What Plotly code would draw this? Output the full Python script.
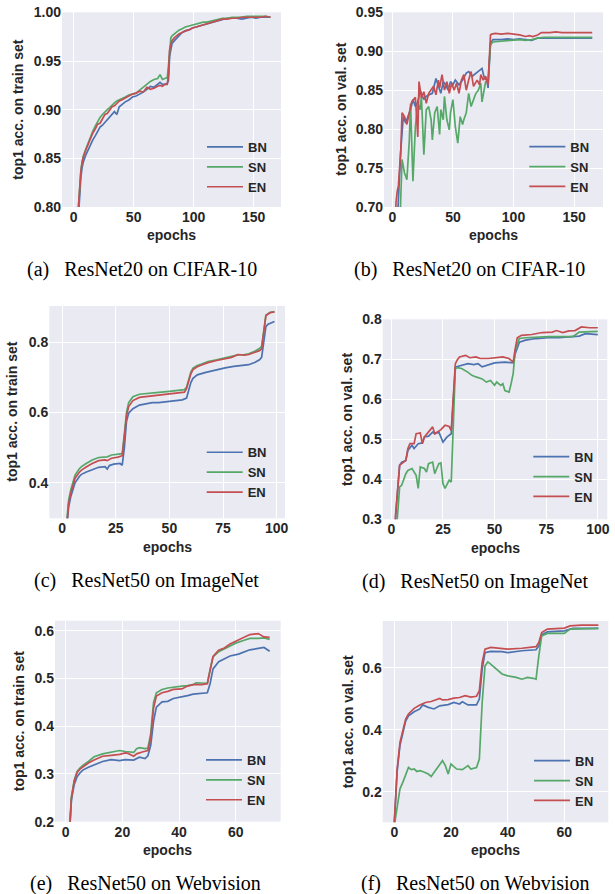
import plotly.graph_objects as go

# ---------------- data ----------------
# (a) ResNet20 CIFAR-10, train
A_X = [1,2,3,4,5,6,7,8,10,12,14,16,18,20,22,24,26,28,30,32,34,36,38,40,43,46,49,52,55,58,61,64,67,70,72,74,76,78,79,80,81,82,84,86,88,90,93,96,99,102,105,108,111,114,117,120,124,128,132,136,140,144,148,152,156,160,164]
A_BN = [0.58,0.69,0.75,0.79,0.815,0.830,0.840,0.846,
        0.853,0.859,0.864,0.869,0.873,0.877,0.882,0.884,0.887,0.890,0.893,0.895,0.898,0.895,0.903,0.905,
        0.908,0.910,0.913,0.914,0.916,0.918,0.921,0.924,0.923,0.926,
        0.928,0.926,0.926,0.927,
        0.930,0.955,0.964,0.968,
        0.971,0.974,0.977,0.979,
        0.981,0.982,0.984,0.985,0.986,0.987,0.988,0.989,0.990,0.991,
        0.993,0.994,0.994,0.994,0.993,0.994,0.995,0.994,0.995,0.995,0.995]
A_SN = [0.59,0.70,0.76,0.80,0.823,0.837,0.846,0.852,
        0.859,0.866,0.873,0.878,0.883,0.888,0.892,0.895,0.898,0.900,0.902,0.905,0.907,0.909,0.910,0.911,
        0.913,0.915,0.916,0.917,0.920,0.923,0.926,0.929,0.931,0.932,
        0.936,0.931,0.932,0.933,
        0.945,0.966,0.974,0.976,
        0.978,0.980,0.982,0.983,
        0.985,0.986,0.987,0.988,0.989,0.990,0.990,0.991,0.992,0.993,
        0.994,0.994,0.995,0.995,0.995,0.996,0.996,0.996,0.996,0.996,0.995]
A_EN = [0.60,0.70,0.76,0.80,0.822,0.836,0.845,0.851,
        0.858,0.864,0.871,0.876,0.880,0.885,0.886,0.891,0.895,0.896,0.900,0.903,0.904,0.907,0.909,0.910,
        0.912,0.914,0.916,0.917,0.919,0.918,0.923,0.921,0.922,0.924,
        0.925,0.924,0.926,0.926,
        0.935,0.962,0.968,0.971,
        0.974,0.976,0.978,0.979,
        0.981,0.982,0.984,0.985,0.986,0.987,0.988,0.989,0.990,0.991,
        0.993,0.993,0.994,0.994,0.995,0.995,0.995,0.995,0.995,0.996,0.995]

# (b) ResNet20 CIFAR-10, val
B_BN_X = [3,4,5,7,9,11,13,15,17,19,21,23,26,28,30,33,36,38,40,42,44,46,48,50,52,55,58,61,63,66,69,72,74,76,78,79,81,83,90,95,100,105,110,115,120,125,130,140,150,160,165]
B_BN = [0.64,0.68,0.71,0.774,0.816,0.808,0.816,0.825,0.838,0.829,0.835,0.850,0.838,0.842,0.844,0.846,0.865,0.855,0.846,0.861,0.857,0.850,0.861,0.857,0.863,0.857,0.863,0.872,0.874,0.868,0.872,0.876,0.878,0.865,0.863,0.853,0.910,0.915,0.915,0.916,0.915,0.916,0.915,0.914,0.917,0.917,0.917,0.917,0.917,0.917,0.917]
B_SN_X = [5,7,8,10,12,14,15,17,19,21,23,24,26,28,30,32,33,35,37,39,40,42,43,45,47,48,50,52,54,56,58,59,61,63,65,68,69,71,73,74,76,77,79,81,83,90,95,100,105,110,115,120,125,130,140,150,160,165]
B_SN = [0.62,0.70,0.761,0.744,0.735,0.786,0.833,0.733,0.803,0.833,0.825,0.842,0.767,0.825,0.829,0.812,0.786,0.821,0.829,0.793,0.825,0.812,0.842,0.812,0.799,0.821,0.838,0.803,0.782,0.816,0.806,0.812,0.821,0.846,0.829,0.842,0.846,0.850,0.859,0.835,0.855,0.861,0.863,0.908,0.912,0.913,0.914,0.914,0.915,0.914,0.915,0.917,0.918,0.918,0.918,0.918,0.918,0.918]
B_EN_X = [2,3,4,5,7,8,10,12,14,16,19,21,22,24,26,28,30,32,34,36,38,39,41,43,45,47,49,51,53,55,57,59,61,63,65,67,70,72,73,75,77,79,81,82,85,90,95,100,105,110,113,116,120,123,130,135,140,145,150,155,160,165]
B_EN = [0.66,0.705,0.72,0.727,0.774,0.821,0.816,0.806,0.821,0.835,0.841,0.790,0.861,0.840,0.848,0.833,0.846,0.850,0.855,0.844,0.863,0.853,0.870,0.850,0.861,0.846,0.859,0.850,0.859,0.846,0.863,0.870,0.850,0.863,0.874,0.855,0.863,0.857,0.870,0.863,0.868,0.857,0.921,0.922,0.923,0.922,0.923,0.922,0.921,0.919,0.920,0.919,0.921,0.924,0.924,0.925,0.924,0.924,0.924,0.924,0.924,0.924]

# (c) ResNet50 ImageNet, train
C_BN_X = [1,2,3,4,5,6,8,9,11,14,17,20,21,22,24,27,28,29,30,31,33,36,40,42,45,50,53,56,58,59,60,61,63,67,72,76,80,84,87,90,92,93,94,95,96,99]
C_BN = [0.19,0.26,0.33,0.36,0.38,0.40,0.418,0.424,0.430,0.437,0.444,0.446,0.439,0.449,0.453,0.455,0.450,0.50,0.575,0.598,0.611,0.621,0.625,0.628,0.628,0.632,0.633,0.636,0.641,0.665,0.685,0.697,0.707,0.714,0.722,0.727,0.731,0.733,0.736,0.743,0.750,0.757,0.800,0.845,0.851,0.859]
C_SN_X = [1,2,3,4,5,6,8,9,11,14,17,20,21,23,26,28,29,30,31,33,36,40,45,50,53,57,58,59,60,61,63,65,68,72,76,79,82,85,87,90,92,93,94,95,97,99]
C_SN = [0.21,0.28,0.35,0.38,0.40,0.422,0.440,0.446,0.454,0.465,0.472,0.475,0.474,0.479,0.482,0.483,0.54,0.60,0.628,0.645,0.652,0.655,0.657,0.660,0.662,0.665,0.672,0.695,0.715,0.726,0.734,0.738,0.745,0.750,0.755,0.759,0.764,0.765,0.767,0.775,0.782,0.788,0.835,0.877,0.885,0.887]
C_EN_X = [1,2,3,4,5,6,8,9,11,14,17,20,21,23,26,28,29,30,31,33,36,40,45,50,53,57,58,59,60,61,63,65,68,72,76,79,82,85,87,90,92,93,94,95,97,99]
C_EN = [0.20,0.27,0.34,0.37,0.39,0.413,0.430,0.436,0.444,0.455,0.463,0.465,0.463,0.470,0.473,0.477,0.53,0.59,0.617,0.634,0.643,0.646,0.650,0.652,0.655,0.658,0.668,0.690,0.710,0.722,0.730,0.735,0.742,0.748,0.752,0.757,0.765,0.763,0.765,0.772,0.776,0.781,0.830,0.876,0.884,0.886]

# (d) ResNet50 ImageNet, val
D_BN_X = [1,2,3,4,5,7,8,10,11,13,15,16,18,20,21,23,25,27,29,30,31,32,34,37,40,42,44,47,50,55,59,60,62,65,70,76,81,86,91,94,100]
D_BN = [0.15,0.30,0.37,0.435,0.443,0.447,0.472,0.485,0.477,0.489,0.491,0.506,0.508,0.518,0.514,0.518,0.493,0.506,0.514,0.589,0.681,0.682,0.685,0.689,0.687,0.689,0.681,0.687,0.691,0.693,0.691,0.714,0.743,0.748,0.752,0.754,0.754,0.756,0.758,0.764,0.762]
D_SN_X = [1,2,3,4,5,7,8,10,12,13,14,16,17,18,20,21,22,23,24,25,26,28,29,30,31,32,34,37,39,41,44,46,48,50,51,53,54,55,57,58,59,60,62,65,70,76,83,88,91,100]
D_SN = [0.12,0.25,0.31,0.381,0.385,0.414,0.422,0.427,0.410,0.377,0.431,0.427,0.418,0.439,0.443,0.414,0.427,0.439,0.441,0.389,0.377,0.398,0.393,0.556,0.677,0.679,0.677,0.668,0.660,0.656,0.651,0.643,0.647,0.635,0.643,0.635,0.639,0.622,0.618,0.639,0.664,0.722,0.752,0.754,0.756,0.757,0.757,0.757,0.768,0.770]
D_EN_X = [1,2,3,4,5,7,8,9,11,12,14,15,16,18,20,21,24,26,28,29,30,31,32,33,36,38,41,43,47,50,54,57,59,60,61,63,68,73,78,80,83,86,89,92,96,100]
D_EN = [0.15,0.31,0.372,0.435,0.439,0.447,0.477,0.489,0.489,0.514,0.516,0.489,0.506,0.518,0.531,0.514,0.524,0.535,0.532,0.522,0.598,0.689,0.699,0.706,0.710,0.704,0.706,0.702,0.702,0.704,0.706,0.702,0.693,0.727,0.754,0.760,0.762,0.767,0.768,0.772,0.767,0.771,0.772,0.781,0.779,0.779]

# (e) ResNet50 Webvision, train
E_BN_X = [1,2,3,4,5,6,8,10,13,16,19,21,24,26,28,29,30,31,32,34,36,38,41,43,45,48,50,51,52,54,56,58,61,63,65,68,70,72]
E_BN = [0.14,0.245,0.278,0.294,0.302,0.308,0.314,0.319,0.326,0.330,0.328,0.330,0.329,0.335,0.332,0.338,0.360,0.410,0.440,0.451,0.452,0.458,0.461,0.464,0.467,0.468,0.470,0.490,0.520,0.535,0.541,0.547,0.551,0.556,0.560,0.563,0.565,0.557]
E_SN_X = [1,2,3,4,5,6,8,10,13,16,19,21,24,25,26,28,29,30,31,32,34,36,38,41,43,45,46,48,50,51,52,54,56,58,60,63,65,68,70,72]
E_SN = [0.15,0.252,0.287,0.305,0.312,0.318,0.326,0.336,0.342,0.345,0.349,0.347,0.345,0.353,0.355,0.353,0.354,0.385,0.450,0.470,0.477,0.480,0.482,0.484,0.485,0.487,0.491,0.490,0.490,0.520,0.545,0.556,0.562,0.568,0.574,0.580,0.584,0.584,0.585,0.582]
E_EN_X = [1,2,3,4,5,6,8,10,13,16,19,21,22,24,25,27,29,30,31,32,34,36,38,41,43,45,48,50,51,52,54,56,58,60,63,65,68,70,72]
E_EN = [0.15,0.25,0.285,0.303,0.310,0.315,0.323,0.329,0.337,0.339,0.341,0.344,0.343,0.337,0.342,0.346,0.349,0.376,0.438,0.463,0.470,0.473,0.477,0.478,0.484,0.487,0.487,0.489,0.515,0.546,0.559,0.564,0.572,0.578,0.587,0.592,0.594,0.587,0.586]

# (f) ResNet50 Webvision, val
F_BN_X = [0,1,2,3,4,5,7,9,10,12,14,16,19,21,23,24,26,29,30,31,32,34,38,40,45,50,51,52,54,60,63,72]
F_BN = [0.10,0.265,0.350,0.395,0.428,0.445,0.458,0.467,0.480,0.472,0.467,0.477,0.481,0.488,0.483,0.490,0.480,0.480,0.499,0.596,0.649,0.653,0.652,0.649,0.655,0.658,0.671,0.706,0.716,0.719,0.727,0.727]
F_SN_X = [0,1,2,3,4,5,6,7,8,9,10,12,13,15,17,18,19,20,22,24,26,27,29,30,31,32,33,34,36,38,40,43,45,47,49,50,51,52,54,60,62,72]
F_SN = [0.09,0.155,0.209,0.230,0.252,0.278,0.271,0.273,0.265,0.268,0.265,0.257,0.249,0.273,0.300,0.284,0.257,0.289,0.273,0.271,0.284,0.273,0.278,0.305,0.488,0.606,0.619,0.612,0.596,0.580,0.574,0.569,0.563,0.569,0.566,0.563,0.639,0.703,0.711,0.711,0.725,0.727]
F_EN_X = [0,1,2,3,4,5,7,9,11,13,16,17,19,21,23,25,27,29,30,31,32,34,37,40,45,50,51,52,54,57,60,62,66,72]
F_EN = [0.10,0.273,0.359,0.402,0.434,0.451,0.469,0.480,0.488,0.491,0.501,0.496,0.497,0.502,0.504,0.510,0.505,0.508,0.526,0.617,0.660,0.666,0.663,0.660,0.663,0.668,0.682,0.714,0.725,0.727,0.728,0.735,0.738,0.738]

SERIES_NAMES = ["BN", "SN", "EN"]
COLORS = {"BN": "#4C72B0", "SN": "#55A868", "EN": "#C44E52"}

CAPTIONS = ["(a)\u00a0\u00a0\u00a0ResNet20 on CIFAR-10", "(b)\u00a0\u00a0\u00a0ResNet20 on CIFAR-10",
            "(c)\u00a0\u00a0\u00a0ResNet50 on ImageNet", "(d)\u00a0\u00a0\u00a0ResNet50 on ImageNet",
            "(e)\u00a0\u00a0\u00a0ResNet50 on Webvision", "(f)\u00a0\u00a0\u00a0ResNet50 on Webvision"]
YTITLES = ["top1 acc. on train set", "top1 acc. on val. set"] * 3
XTITLE = "epochs"

XTICKS = [[0, 50, 100, 150], [0, 50, 100, 150], [0, 25, 50, 75, 100], [0, 25, 50, 75, 100],
          [0, 20, 40, 60], [0, 20, 40, 60]]
YTICKS = [[0.80, 0.85, 0.90, 0.95, 1.00], [0.70, 0.75, 0.80, 0.85, 0.90, 0.95],
          [0.4, 0.6, 0.8], [0.3, 0.4, 0.5, 0.6, 0.7, 0.8],
          [0.2, 0.3, 0.4, 0.5, 0.6], [0.2, 0.4, 0.6]]
YFMT = ["{:.2f}", "{:.2f}", "{:.1f}", "{:.1f}", "{:.1f}", "{:.1f}"]

panels_data = [
    [(A_X, A_BN), (A_X, A_SN), (A_X, A_EN)],
    [(B_BN_X, B_BN), (B_SN_X, B_SN), (B_EN_X, B_EN)],
    [(C_BN_X, C_BN), (C_SN_X, C_SN), (C_EN_X, C_EN)],
    [(D_BN_X, D_BN), (D_SN_X, D_SN), (D_EN_X, D_EN)],
    [(E_BN_X, E_BN), (E_SN_X, E_SN), (E_EN_X, E_EN)],
    [(F_BN_X, F_BN), (F_SN_X, F_SN), (F_EN_X, F_EN)],
]

# ---------------- layout geometry (window pixels) ----------------
W, H = 615, 894
# plot areas: left, right, top, bottom
BOX = [(62, 281, 12.3, 207), (384, 603, 12.3, 207),
       (49.3, 285, 306, 518.3), (382.7, 607.3, 319.3, 519.3),
       (55, 280.7, 620.7, 821.7), (382.7, 608.3, 621, 822.3)]
XRANGE = [(-9.7, 172.8), (-6.9, 173.9), (-6.0, 103.9), (-4.2, 104.6), (-3.8, 75.9), (-4.1, 75.5)]
YRANGE = [(0.7999, 1.0001), (0.6999, 0.9501), (0.299, 0.903), (0.2999, 0.8001), (0.1999, 0.621), (0.101, 0.751)]
YTITLE_X = [18, 341, 12.5, 347.7, 19, 347.7]
XTITLE_Y = [235, 235, 546.7, 547.7, 850, 850]
CAP_POS = [(141.5, 269.3), (469, 269.3), (146, 580), (475, 581), (145.5, 883), (475, 883)]
LEG_POS = [(202, 132), (524.3, 131.7), (201.7, 437.3), (528.3, 441.7), (201, 745), (529, 745.7)]

def px(x):
    return x / W

def py(y):
    return 1 - y / H

SANS = "Liberation Sans, Arial, sans-serif"
SERIF = "Liberation Serif, Times New Roman, serif"
DARK = "#262626"

fig = go.Figure()
layout = dict(
    width=W, height=H, margin=dict(l=0, r=0, t=0, b=0, pad=0, autoexpand=False),
    paper_bgcolor="white", plot_bgcolor="#EAEAF2",
    showlegend=True, annotations=[],
)

for i in range(6):
    n = i + 1
    xa = "x" if n == 1 else f"x{n}"
    ya = "y" if n == 1 else f"y{n}"
    leg = "legend" if n == 1 else f"legend{n}"
    for (xs, ys), name in zip(panels_data[i], SERIES_NAMES):
        fig.add_trace(go.Scatter(x=xs, y=ys, mode="lines", name=name,
                                 line=dict(color=COLORS[name], width=1.7),
                                 xaxis=xa, yaxis=ya, legend=leg, hoverinfo="skip"))
    l, r, t, b = BOX[i]
    axis_common = dict(showgrid=True, gridcolor="white", gridwidth=1.3, zeroline=False, automargin=False,
                       showline=False, ticks="", ticklabeloverflow="allow",
                       tickfont=dict(family=SANS, size=14, color=DARK, weight="bold"))
    layout[f"xaxis{'' if n == 1 else n}"] = dict(
        domain=[px(l), px(r)], range=list(XRANGE[i]), anchor=ya,
        tickmode="array", tickvals=XTICKS[i], ticktext=[str(v) for v in XTICKS[i]], **axis_common)
    layout[f"yaxis{'' if n == 1 else n}"] = dict(
        domain=[py(b), py(t)], range=list(YRANGE[i]), anchor=xa,
        tickmode="array", tickvals=YTICKS[i], ticktext=[YFMT[i].format(v) for v in YTICKS[i]], **axis_common)
    lx, ly = LEG_POS[i]
    layout[leg] = dict(x=px(lx), y=py(ly), xanchor="left", yanchor="top", bgcolor="rgba(0,0,0,0)",
                       borderwidth=0, itemwidth=36,
                       font=dict(family=SANS, size=13, color=DARK, weight="bold"))
    # axis titles
    layout["annotations"].append(dict(text=XTITLE, x=px((l + r) / 2), y=py(XTITLE_Y[i]), xref="paper", yref="paper",
                                      xanchor="center", yanchor="middle", showarrow=False,
                                      font=dict(family=SANS, size=14, color=DARK, weight="bold")))
    layout["annotations"].append(dict(text=YTITLES[i], x=px(YTITLE_X[i]), y=py((t + b) / 2), xref="paper", yref="paper",
                                      xanchor="center", yanchor="middle", showarrow=False, textangle=-90,
                                      font=dict(family=SANS, size=14, color=DARK, weight="bold")))
    cx, cy = CAP_POS[i]
    layout["annotations"].append(dict(text=CAPTIONS[i], x=px(cx), y=py(cy), xref="paper", yref="paper",
                                      xanchor="center", yanchor="middle", showarrow=False,
                                      font=dict(family=SERIF, size=20, color="black")))

fig.update_layout(**layout)
# remove the default page margin so the figure fills the window exactly
fig.write_html("out.html", config={"displayModeBar": False},
               post_script="document.body.style.margin='0';document.body.style.overflow='hidden';")
